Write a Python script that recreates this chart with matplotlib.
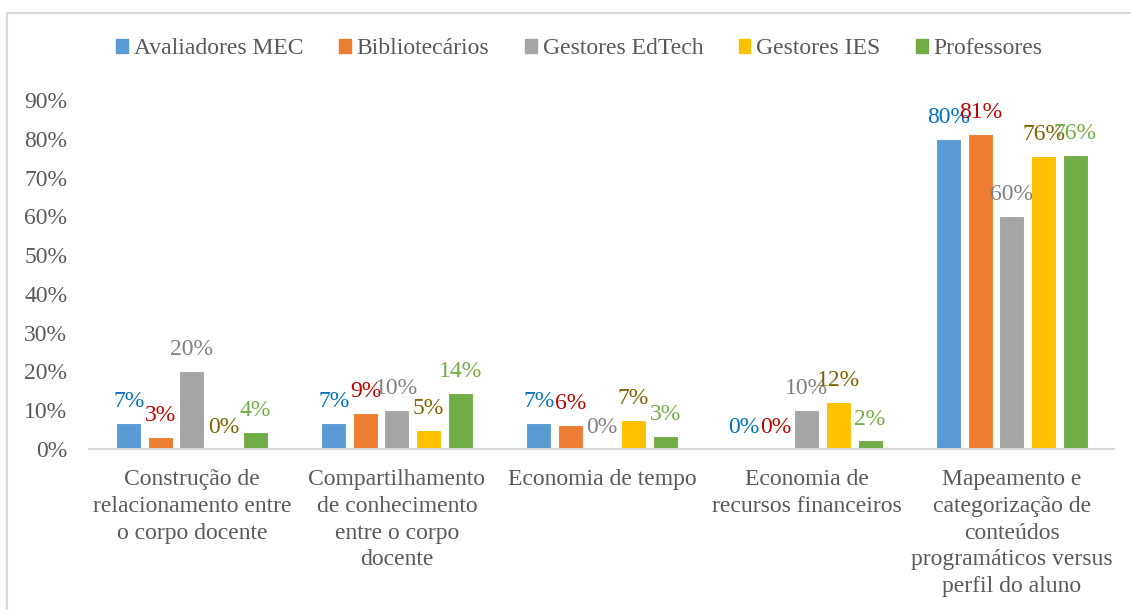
#!/usr/bin/env python3

import numpy as np
import matplotlib.pyplot as plt
import matplotlib.patches as mpatches


# -------------------- #
# -------- DATA ------ #
# -------------------- #

categories = [
    'Construção de\nrelacionamento entre\no corpo docente',
    'Compartilhamento\nde conhecimento\nentre o corpo\ndocente',
    'Economia de tempo',
    'Economia de\nrecursos financeiros',
    'Mapeamento e\ncategorização de\nconteúdos\nprogramáticos versus\nperfil do aluno',
]

series_names = ['Avaliadores MEC', 'Bibliotecários', 'Gestores EdTech', 'Gestores IES', 'Professores']

avaliadores_mec = [0.067, 0.067, 0.067, 0.0, 0.80]
bibliotecarios  = [0.032, 0.094, 0.063, 0.0, 0.812]
gestores_edtech = [0.20, 0.10, 0.0, 0.10, 0.60]
gestores_ies    = [0.0, 0.049, 0.074, 0.122, 0.756]
professores     = [0.043, 0.144, 0.033, 0.022, 0.759]

y_ticks = [0.0, 0.1, 0.2, 0.3, 0.4, 0.5, 0.6, 0.7, 0.8, 0.9]


# -------------------- #
# ------ STYLES ------ #
# -------------------- #

bar_colors   = ['#5B9BD5', '#ED7D31', '#A5A5A5', '#FFC000', '#70AD47']
label_colors = ['#0070C0', '#C00000', '#808080', '#7F6000', '#70AD47']
text_color   = '#595959'
line_color   = '#D9D9D9'

plt.rcParams['font.family'] = ['Liberation Serif', 'DejaVu Serif']


# -------------------- #
# ------- CHART ------ #
# -------------------- #

values = [avaliadores_mec, bibliotecarios, gestores_edtech, gestores_ies, professores]

fig = plt.figure(figsize=(11.31, 6.10), dpi=100)
ax = fig.add_axes([0.0791, 0.2639, 0.9063, 0.5721])

x = np.arange(len(categories))
bar_width = 0.122
step = 0.154

for i, (name, vals) in enumerate(zip(series_names, values)):
    pos = x + (i - 2) * step
    ax.bar(
        pos, vals,
        width     = bar_width,
        color     = bar_colors[i],
        edgecolor = 'white',
        linewidth = 0.8,
        label     = name,
        zorder    = 2,
    )
    for px, v in zip(pos, vals):
        ax.annotate(
            f'{round(v * 100):.0f}%',
            xy         = (px, v),
            xytext     = (0, 11.5),
            textcoords = 'offset points',
            ha         = 'center',
            va         = 'baseline',
            fontsize   = 17,
            color      = label_colors[i],
            zorder     = 3,
        )

ax.set_xlim(-0.5, len(categories) - 0.5)
ax.set_ylim(0, 0.9)

ax.set_yticks(y_ticks)
ax.set_yticklabels([f'{t * 100:.0f}%' for t in y_ticks])
ax.set_xticks(x)
ax.set_xticklabels(categories, linespacing=1.36)

ax.tick_params(axis='y', length=0, pad=16, labelsize=17, labelcolor=text_color)
ax.tick_params(axis='x', length=0, pad=14.5, labelsize=17, labelcolor=text_color)

for side in ['left', 'right', 'top']:
    ax.spines[side].set_visible(False)
ax.spines['bottom'].set_color(line_color)
ax.spines['bottom'].set_linewidth(1.5)

handles = [mpatches.Patch(color=c, label=n) for c, n in zip(bar_colors, series_names)]
leg = fig.legend(
    handles        = handles,
    loc            = 'center',
    bbox_to_anchor = (0.5124, 1 - 49 / 610),
    ncol           = 5,
    frameon        = False,
    fontsize       = 17,
    handlelength   = 0.5,
    handleheight   = 0.5,
    handletextpad  = 0.25,
    columnspacing  = 1.5,
)
for t in leg.get_texts():
    t.set_color(text_color)

# outer chart frame, running off the right and bottom edges
frame = mpatches.Rectangle(
    (7 / 1131, -0.05), 1.2, 1 - 13 / 610 + 0.05,
    transform = fig.transFigure,
    fill      = False,
    edgecolor = line_color,
    linewidth = 1.5,
)
fig.patches.append(frame)

plt.savefig('out.png', dpi=100, facecolor='white')
plt.close()
